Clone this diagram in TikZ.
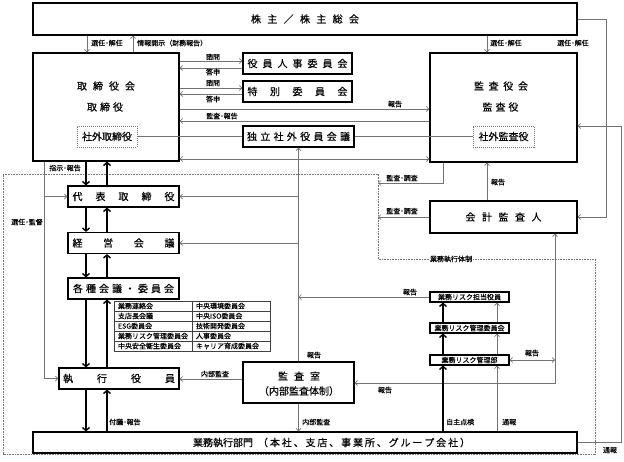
\documentclass[tikz,border=0pt]{standalone}
\usepackage{fontspec}
\setmainfont{Noto Sans CJK JP}[FakeBold=0.35]
\usetikzlibrary{arrows.meta}
\newcommand\sprd[2]{\makebox[#1][s]{#2}}
\newcommand\fsz[1]{\fontsize{#1}{#1}\selectfont}
\begin{document}
\begin{tikzpicture}[x=1pt,y=-1pt,
  box/.style={draw=black, line width=1.2pt, inner sep=0pt, fill=white},
  sbox/.style={draw=black, line width=1.1pt, inner sep=0pt, fill=white, minimum width=79pt, minimum height=10pt, font=\fsz{7}},
  dbox/.style={draw=black!55, dash pattern=on 1pt off 1pt, line width=0.7pt, inner sep=0pt, fill=white, font=\fsz{10}},
  ln/.style={draw=black!55, line width=0.7pt},
  arr/.style={ln, -{Straight Barb[length=2.5pt,width=5pt]}},
  darr/.style={ln, {Straight Barb[length=2.5pt,width=5pt]}-{Straight Barb[length=2.5pt,width=5pt]}},
  tarr/.style={draw=black, line width=1.4pt, -{Straight Barb[length=3pt,width=7pt]}},
  lab/.style={font=\fsz{7}, inner sep=0pt},
  txt/.style={font=\fsz{10}, inner sep=0pt},
  cell/.style={draw=black!75, line width=0.6pt, inner xsep=4pt, inner ysep=0pt, text width=70pt, minimum height=10pt, align=left, font=\fsz{7}},
  dotframe/.style={draw=black!55, line width=0.8pt, dash pattern=on 0.8pt off 0.8pt}
]
\fill[white] (0,0) rectangle (624,461);
\useasboundingbox (0,0) rectangle (624,461);

% dotted frame
\draw[dotframe] (3,174) -- (378,174) -- (378,259) -- (595,259) -- (595,454) -- (3,454) -- cycle;
\node[lab, fill=white, inner xsep=1pt] (frlab) at (451,259) {業務執行体制};

% coordinates for vertical routes
\coordinate (r1) at (606,0);
\coordinate (r2) at (621,0);
\coordinate (r3) at (555,0);
\coordinate (s1) at (44,0);
\coordinate (k1) at (443,0);
\coordinate (k2) at (497,0);

% boxes
\node[box, minimum width=544pt, minimum height=32pt] (sh) at (305,19) {\fsz{10}\sprd{108pt}{株\hfill 主\hfill ／\hfill 株\hfill 主\hfill 総\hfill 会}};
\node[box, minimum width=146pt, minimum height=108pt] (bd) at (106,107) {};
\node[txt] (bdt1) at (106,86) {\sprd{58pt}{取\hfill 締\hfill 役\hfill 会}};
\node[txt] (bdt2) at (105,107) {\sprd{36pt}{取\hfill 締\hfill 役}};
\node[dbox, minimum width=60pt, minimum height=21pt] (stori) at (107,136.5) {社外取締役};

\node[box, minimum width=109pt, minimum height=21pt] (jinji) at (297.5,63.5) {\fsz{10}\sprd{100pt}{役\hfill 員\hfill 人\hfill 事\hfill 委\hfill 員\hfill 会}};
\node[box, minimum width=109pt, minimum height=21pt] (toku) at (297.5,91.5) {\fsz{10}\sprd{100pt}{特\hfill 別\hfill 委\hfill 員\hfill 会}};
\node[box, minimum width=111pt, minimum height=21pt] (doku) at (298.5,136.5) {\fsz{10}\sprd{103pt}{独\hfill 立\hfill 社\hfill 外\hfill 役\hfill 員\hfill 会\hfill 議}};

\node[box, minimum width=147pt, minimum height=109pt] (kansayaku) at (503.5,107.5) {};
\node[txt] (kyt1) at (501,86) {\sprd{54pt}{監\hfill 査\hfill 役\hfill 会}};
\node[txt] (kyt2) at (500.5,107) {\sprd{36pt}{監\hfill 査\hfill 役}};
\node[dbox, minimum width=61pt, minimum height=21pt] (skansa) at (503.5,136.5) {社外監査役};

\node[box, minimum width=147pt, minimum height=32pt] (kaikei) at (503.5,217) {\fsz{10}\sprd{76pt}{会\hfill 計\hfill 監\hfill 査\hfill 人}};

\node[box, minimum width=111pt, minimum height=21pt] (daihyo) at (123.5,196.5) {\fsz{10}\sprd{102pt}{代\hfill 表\hfill 取\hfill 締\hfill 役}};
\node[box, minimum width=111pt, minimum height=21pt] (keiei) at (123.5,243) {\fsz{10}\sprd{102pt}{経\hfill 営\hfill 会\hfill 議}};
\node[box, minimum width=111pt, minimum height=21pt] (kakushu) at (123.5,288.5) {\fsz{10}\sprd{101pt}{各\hfill 種\hfill 会\hfill 議\hfill ・\hfill 委\hfill 員\hfill 会}};
\node[box, minimum width=120pt, minimum height=21pt] (shikko) at (119,378.5) {\fsz{10}\sprd{112pt}{執\hfill 行\hfill 役\hfill 員}};
\node[box, minimum width=544pt, minimum height=21pt] (gyomu) at (305,442.5) {};
\node[txt] (gyt) at (331.5,442.5) {業務執行部門\hspace{5pt}\makebox[212pt][s]{（\hfill 本\hfill 社\hfill 、\hfill 支\hfill 店\hfill 、\hfill 事\hfill 業\hfill 所\hfill 、\hfill グ\hfill ル\hfill ー\hfill プ\hfill 会\hfill 社\hfill ）}};

\node[box, minimum width=111pt, minimum height=41pt] (kansashitsu) at (298.5,382.5) {};
\node[txt] (kst1) at (299,376) {\sprd{42pt}{監\hfill 査\hfill 室}};
\node[txt] (kst2) at (299,391) {（内部監査体制）};

\node[sbox] (risk1) at (469.5,297) {業務リスク担当役員};
\node[sbox] (risk2) at (469.5,328) {業務リスク管理委員会};
\node[sbox] (risk3) at (469.5,360) {業務リスク管理部};

% committee table
\node[cell] (c11) at (153,306) {業務連絡会};
\node[cell] (c21) at (153,316) {支店長会議};
\node[cell] (c31) at (153,326) {ESG委員会};
\node[cell] (c41) at (153,336) {業務リスク管理委員会};
\node[cell] (c51) at (153,346) {中央安全衛生委員会};
\node[cell] (c12) at (231,306) {中央環境委員会};
\node[cell] (c22) at (231,316) {中央ISO委員会};
\node[cell] (c32) at (231,326) {技術開発委員会};
\node[cell] (c42) at (231,336) {人事委員会};
\node[cell] (c52) at (231,346) {キャリア育成委員会};

% shareholders connections
\draw[arr] (sh.south -| 87,0) -- (bd.north -| 87,0);
\node[lab, anchor=west] (l1) at (91,43) {選任･解任};
\draw[arr] (bd.north -| 133,0) -- (sh.south -| 133,0);
\node[lab, anchor=west] (l2) at (137,43) {情報開示（財務報告）};
\draw[arr] (sh.south -| 487,0) -- (kansayaku.north -| 487,0);
\node[lab, anchor=west] (l3) at (490,43) {選任･解任};
\draw[arr] (sh.east) -| (r1 |- kaikei.east) -- (kaikei.east);
\node[lab, anchor=west] (l4) at (557,43) {選任･解任};
\draw[arr] (gyomu.east) -| (r2 |- 0,126) -- (kansayaku.east |- 0,126);
\node[lab] (l5) at (610,450) {通報};

% board and committees
\draw[arr] (bd.east |- 0,61) -- (jinji.west |- 0,61);
\draw[arr] (jinji.west |- 0,68) -- (bd.east |- 0,68);
\node[lab] (l6) at (213,57) {諮問};
\node[lab] (l7) at (213,72) {答申};
\draw[arr] (bd.east |- 0,88) -- (toku.west |- 0,88);
\draw[arr] (toku.west |- 0,94) -- (bd.east |- 0,94);
\node[lab] (l8) at (213,83) {諮問};
\node[lab] (l9) at (213,99) {答申};
\draw[arr] (bd.east |- 0,109) -- (kansayaku.west |- 0,109);
\node[lab] (l10) at (395,104) {報告};
\draw[arr] (kansayaku.west |- 0,121) -- (bd.east |- 0,121);
\node[lab, anchor=west] (l11) at (206,116) {監査･報告};
\draw[ln] (stori.east) -- (doku.west);
\draw[ln] (doku.east) -- (skansa.west);
\draw[darr] (bd.east |- 0,159) -- (kansayaku.west |- 0,159);

% audit office bus
\draw[arr] (kansashitsu.north) -- (doku.south);
\draw[arr] (kansashitsu.north |- daihyo.east) -- (daihyo.east);
\draw[arr] (kansashitsu.north |- keiei.east) -- (keiei.east);
\draw[arr] (risk1.west) -- (kansashitsu.north |- risk1.west);
\node[lab] (l12) at (410,292) {報告};
\node[lab] (l13) at (314,355) {報告};

% appointment / supervision
\draw[arr] (bd.south -| s1) |- (shikko.west);
\draw[arr] (s1 |- daihyo.west) -- (daihyo.west);
\node[lab] (l14) at (27,222) {選任･監督};

% thick chain
\draw[tarr] (bd.south -| 86,0) -- (daihyo.north -| 86,0);
\draw[tarr] (daihyo.north -| 107,0) -- (bd.south -| 107,0);
\draw[tarr] (daihyo.south -| 86,0) -- (keiei.north -| 86,0);
\draw[tarr] (keiei.north -| 107,0) -- (daihyo.south -| 107,0);
\draw[tarr] (keiei.south -| 86,0) -- (kakushu.north -| 86,0);
\draw[tarr] (kakushu.north -| 107,0) -- (keiei.south -| 107,0);
\draw[tarr] (kakushu.south -| 86,0) -- (shikko.north -| 86,0);
\draw[tarr] (shikko.north -| 107,0) -- (kakushu.south -| 107,0);
\draw[tarr] (shikko.south -| 86,0) -- (gyomu.north -| 86,0);
\draw[tarr] (gyomu.north -| 107,0) -- (shikko.south -| 107,0);
\node[lab] (l15) at (65,168) {指示･報告};
\node[lab, anchor=west] (l16) at (109,422) {付議･報告};

% internal audit
\draw[arr] (kansashitsu.west |- 0,379) -- (shikko.east |- 0,379);
\node[lab] (l17) at (215,374) {内部監査};
\draw[arr] (kansashitsu.south) -- (gyomu.north -| kansashitsu.south);
\node[lab, anchor=west] (l18) at (302,422) {内部監査};

% reports to auditor
\draw[darr] (kansashitsu.east |- 0,383) -| (r3 |- kaikei.south);
\node[lab] (l19) at (385,390) {報告};
\draw[darr] (risk3.east) -- (r3 |- risk3.east);
\node[lab] (l20) at (532,353) {報告};

% risk chain
\draw[tarr] (gyomu.north -| k1) -- (risk3.south -| k1);
\draw[tarr] (risk3.north -| k1) -- (risk2.south -| k1);
\draw[tarr] (risk2.north -| k1) -- (risk1.south -| k1);
\draw[arr] (gyomu.north -| k2) -- (risk3.south -| k2);
\draw[arr] (risk3.north -| k2) -- (risk2.south -| k2);
\draw[arr] (risk2.north -| k2) -- (risk1.south -| k2);
\node[lab, anchor=west] (l21) at (446,422) {自主点検};
\node[lab, anchor=west] (l22) at (502,422) {通報};

% audit & investigation
\draw[arr] (kansayaku.south -| k1) |- (378,183);
\node[lab] (l23) at (402,178) {監査･調査};
\draw[arr] (kaikei.west) -- (378,217);
\node[lab] (l24) at (402,211) {監査･調査};
\draw[arr] (kaikei.north -| 487,0) -- (kansayaku.south -| 487,0);
\node[lab] (l25) at (498,182) {報告};
\end{tikzpicture}
\end{document}
